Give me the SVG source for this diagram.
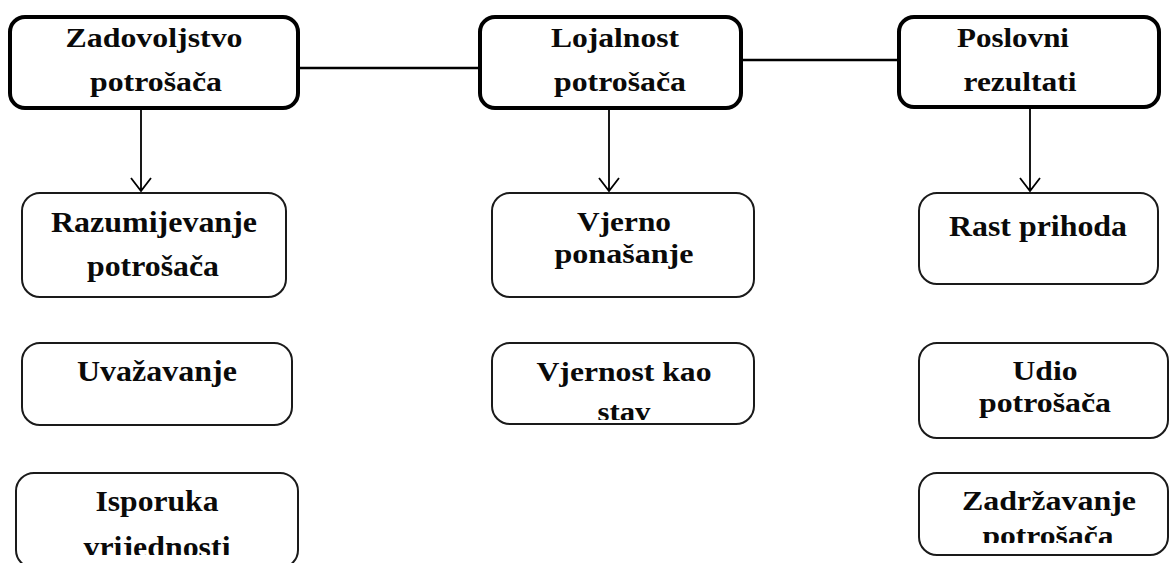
<svg xmlns="http://www.w3.org/2000/svg" width="1171" height="563" viewBox="0 0 1171 563">
<style>
.bg{fill:#fff}
.top{fill:#fff;stroke:#000;stroke-width:4}
.sub{fill:#fff;stroke:#1a1a1a;stroke-width:2}
.conn{stroke:#000;stroke-width:2.5;fill:none}
.arr{stroke:#000;stroke-width:1.8;fill:none}
text{font-family:"Liberation Serif","Times New Roman",serif;font-weight:bold;fill:#0a0a0a;text-anchor:middle}
.t1{font-size:27px}
.t2{font-size:30px}
.t3{font-size:28px}
</style>
<defs>
<clipPath id="c1"><rect x="0" y="0" width="1171" height="555"/></clipPath>
<clipPath id="c2"><rect x="0" y="0" width="1171" height="543"/></clipPath>
<clipPath id="c3"><rect x="0" y="0" width="1171" height="420"/></clipPath>
</defs>
<rect class="bg" x="0" y="0" width="1171" height="563"/>
<g id="connectors">
<line class="conn" x1="298" y1="68" x2="480" y2="68"/>
<line class="conn" x1="741" y1="60" x2="899" y2="60"/>
<path class="arr" d="M141,108 L141,190 M131,178 L141,191 L151,178"/>
<path class="arr" d="M609,108 L609,190 M599,178 L609,191 L619,178"/>
<path class="arr" d="M1030,107 L1030,190 M1020,178 L1030,191 L1040,178"/>
</g>
<g id="n-zadovoljstvo">
<rect class="top" x="10" y="17" width="288" height="91" rx="15"/>
<text class="t1" x="154" y="47" textLength="177" lengthAdjust="spacingAndGlyphs">Zadovoljstvo</text>
<text class="t1" x="156" y="91" textLength="132" lengthAdjust="spacingAndGlyphs">potrošača</text>
</g>
<g id="n-lojalnost">
<rect class="top" x="480" y="17" width="261" height="91" rx="15"/>
<text class="t1" x="615" y="47" textLength="128" lengthAdjust="spacingAndGlyphs">Lojalnost</text>
<text class="t1" x="620" y="91" textLength="132" lengthAdjust="spacingAndGlyphs">potrošača</text>
</g>
<g id="n-poslovni">
<rect class="top" x="899" y="17" width="260" height="90" rx="15"/>
<text class="t1" x="1013" y="47" textLength="112" lengthAdjust="spacingAndGlyphs">Poslovni</text>
<text class="t1" x="1020" y="91" textLength="113" lengthAdjust="spacingAndGlyphs">rezultati</text>
</g>
<g id="n-razumijevanje">
<rect class="sub" x="22" y="193" width="264" height="104" rx="18"/>
<text class="t2" x="154" y="232" textLength="206" lengthAdjust="spacingAndGlyphs">Razumijevanje</text>
<text class="t2" x="153" y="276" textLength="132" lengthAdjust="spacingAndGlyphs">potrošača</text>
</g>
<g id="n-uvazavanje">
<rect class="sub" x="22" y="343" width="270" height="82" rx="18"/>
<text class="t2" x="157" y="381" textLength="160" lengthAdjust="spacingAndGlyphs">Uvažavanje</text>
</g>
<g id="n-isporuka">
<rect class="sub" x="16" y="473" width="282" height="95" rx="18"/>
<text class="t2" x="157" y="511" textLength="123" lengthAdjust="spacingAndGlyphs">Isporuka</text>
<text class="t2" x="157" y="557" textLength="147" lengthAdjust="spacingAndGlyphs" clip-path="url(#c1)">vrijednosti</text>
</g>
<g id="n-vjerno">
<rect class="sub" x="492" y="193" width="262" height="104" rx="18"/>
<text class="t3" x="624" y="231" textLength="94" lengthAdjust="spacingAndGlyphs">Vjerno</text>
<text class="t3" x="624" y="263" textLength="139" lengthAdjust="spacingAndGlyphs">ponašanje</text>
</g>
<g id="n-vjernost">
<rect class="sub" x="492" y="343" width="262" height="81" rx="18"/>
<text class="t3" x="624" y="381" textLength="175" lengthAdjust="spacingAndGlyphs">Vjernost kao</text>
<text class="t3" x="624" y="421" textLength="53" lengthAdjust="spacingAndGlyphs" clip-path="url(#c3)">stav</text>
</g>
<g id="n-rast">
<rect class="sub" x="919" y="193" width="239" height="91" rx="18"/>
<text class="t2" x="1038" y="236" textLength="178" lengthAdjust="spacingAndGlyphs">Rast prihoda</text>
</g>
<g id="n-udio">
<rect class="sub" x="919" y="343" width="249" height="95" rx="18"/>
<text class="t3" x="1045" y="380" textLength="65" lengthAdjust="spacingAndGlyphs">Udio</text>
<text class="t3" x="1045" y="412" textLength="132" lengthAdjust="spacingAndGlyphs">potrošača</text>
</g>
<g id="n-zadrzavanje">
<rect class="sub" x="919" y="473" width="249" height="82" rx="18"/>
<text class="t3" x="1049" y="510" textLength="174" lengthAdjust="spacingAndGlyphs">Zadržavanje</text>
<text class="t3" x="1048" y="545" textLength="131" lengthAdjust="spacingAndGlyphs" clip-path="url(#c2)">potrošača</text>
</g>
</svg>
